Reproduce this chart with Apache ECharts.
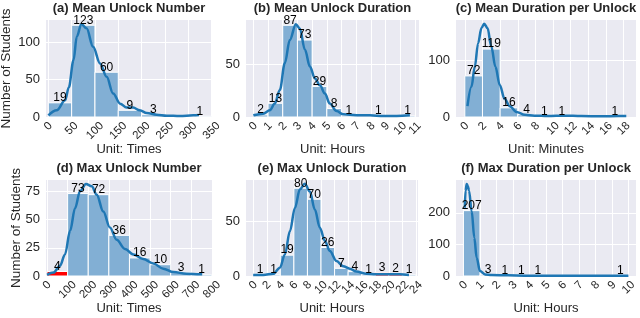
<!DOCTYPE html>
<html><head><meta charset="utf-8">
<script src="https://cdn.jsdelivr.net/npm/echarts@6/dist/echarts.min.js"></script>
<style>html,body{margin:0;padding:0;background:#fff}#c{width:640px;height:318px}</style>
</head><body><div id="c"></div>
<script>
// ---------- DATA ----------
const titles = ['(a) Mean Unlock Number', '(b) Mean Unlock Duration', '(c) Mean Duration per Unlock',
                '(d) Max Unlock Number', '(e) Max Unlock Duration', '(f) Max Duration per Unlock'];
const xNames = ['Unit: Times', 'Unit: Hours', 'Unit: Minutes', 'Unit: Times', 'Unit: Hours', 'Unit: Hours'];
const yName = 'Number of Students';

const binWidths = [50, 1, 2, 100, 2, 1];

const countsA = [19, 123, 60, 9, 3, 0, 1];
const countsB = [2, 13, 87, 73, 29, 8, 1, 0, 1, 0, 1];
const countsC = [72, 119, 16, 4, 1, 1, 0, 0, 1];
const countsD = [4, 73, 72, 36, 16, 10, 3, 1];
const countsE = [1, 1, 19, 80, 70, 26, 7, 4, 1, 3, 2, 1];
const countsF = [207, 3, 1, 1, 1, 0, 0, 0, 0, 1];

const redBinsD = [0];
const redBinsE = [9, 10];

const kdeXA = [0, 18, 36, 44, 54, 61, 71, 82, 96, 111, 125, 139, 154, 168, 182, 196, 211, 232, 254, 282, 311, 323];
const kdeYA = [2.2, 9, 22.4, 40, 76, 107.6, 124.7, 118.8, 94, 71.7, 53.8, 31.4, 17.9, 12.6, 12.6, 9, 5.4, 3.1, 1.8, 1.3, 2.2, 2.7];
const kdeXB = [0, 0.67, 1.12, 1.46, 1.8, 2.14, 2.48, 2.89, 3.16, 3.51, 3.85, 4.19, 4.53, 4.87, 5.2, 5.66, 6.12, 7.02, 7.93, 8.84, 9.75, 10.65];
const kdeYB = [1.6, 3.2, 6.4, 12.7, 25.5, 51, 73, 88, 84, 63.7, 47.8, 36.6, 30, 22.3, 12.7, 5.7, 2.5, 1.6, 1.6, 1, 1, 1.6];
const kdeXC = [0.3, 0.75, 1.13, 1.5, 1.89, 2.19, 2.57, 3.0, 3.47, 3.96, 4.5, 5.1, 5.85, 6.8, 7.9, 9.4, 11.3, 13.2, 15.5, 17.4, 18.3];
const kdeYC = [19, 53, 88, 129, 156, 163.5, 156, 123.5, 88, 56, 32, 19, 8.8, 4, 2.4, 1.8, 2.4, 1.8, 1.2, 1.8, 1.8];
const kdeXD = [0, 31, 63, 87, 112, 136, 160, 189, 217, 241, 273, 305, 338, 378, 419, 467, 516, 564, 613, 677, 742, 753];
const kdeYD = [1, 3, 9, 19, 40, 60, 75, 81.5, 79.4, 72, 57, 43, 32, 24, 19, 15, 11, 6.5, 3.5, 2, 1.5, 1.5];
const kdeXE = [0, 1.5, 2.96, 3.94, 4.68, 5.42, 6.15, 6.89, 7.62, 8.36, 9.09, 9.83, 10.57, 11.3, 12.28, 13.26, 14.24, 15.22, 16.69, 18.16, 20.13, 21.6, 22.97];
const kdeYE = [1, 1, 2, 7.6, 19.7, 41, 62, 79, 84, 77, 60.6, 44, 32, 22.7, 13.6, 9, 6.7, 4, 2, 1.5, 1.5, 1.5, 1];
const kdeXF = [0.08, 0.13, 0.2, 0.27, 0.34, 0.5, 0.66, 0.8, 1.0, 1.31, 1.71, 2.7, 3.7, 4.74, 5.75, 7.77, 9.99];
const kdeYF = [216, 270, 291, 284, 270, 205, 121, 58, 16, 5, 3, 2, 1, 1, 0.5, 0.5, 1];

const xTicksA = [0, 50, 100, 150, 200, 250, 300, 350];
const xTicksB = [0, 1, 2, 3, 4, 5, 6, 7, 8, 9, 10, 11];
const xTicksC = [0, 2, 4, 6, 8, 10, 12, 14, 16, 18];
const xTicksD = [0, 100, 200, 300, 400, 500, 600, 700, 800];
const xTicksE = [0, 2, 4, 6, 8, 10, 12, 14, 16, 18, 20, 22, 24];
const xTicksF = [0, 1, 2, 3, 4, 5, 6, 7, 8, 9, 10];

const yTicksA = [0, 50, 100];
const yTicksB = [0, 50];
const yTicksC = [0, 100];
const yTicksD = [0, 25, 50, 75];
const yTicksE = [0, 50];
const yTicksF = [0, 100, 200];

// ---------- LAYOUT / STYLE ----------
const layout = [
  {left: 46,  right: 212, top: 20,  bottom: 117, xmin: -5,    xmax: 351,   ymax: 130},
  {left: 246, right: 419, top: 20,  bottom: 117, xmin: -0.5,  xmax: 11.27, ymax: 92},
  {left: 456, right: 636, top: 20,  bottom: 117, xmin: -1.0,  xmax: 19.4,  ymax: 170},
  {left: 46,  right: 212, top: 180, bottom: 276, xmin: -5,    xmax: 800.5, ymax: 85},
  {left: 246, right: 418, top: 180, bottom: 276, xmin: -1.06, xmax: 24.3,  ymax: 87.5},
  {left: 456, right: 636, top: 180, bottom: 276, xmin: -0.45, xmax: 10.45, ymax: 304}
];
const FONT = '"Liberation Sans", Arial, Helvetica, sans-serif';
const TXT = '#262626';
const BAR = '#82AFD4';
const RED = '#FF0000';
const LINE = '#1F77B4';
const XTICK_FS = 11.5;

const counts = [countsA, countsB, countsC, countsD, countsE, countsF];
const reds = [[], [], [], redBinsD, redBinsE, []];
const kdeX = [kdeXA, kdeXB, kdeXC, kdeXD, kdeXE, kdeXF];
const kdeY = [kdeYA, kdeYB, kdeYC, kdeYD, kdeYE, kdeYF];
const xTicks = [xTicksA, xTicksB, xTicksC, xTicksD, xTicksE, xTicksF];
const yTicks = [yTicksA, yTicksB, yTicksC, yTicksD, yTicksE, yTicksF];

const cnv = document.createElement('canvas').getContext('2d');
cnv.font = XTICK_FS + 'px ' + FONT;
function textW(s) { return cnv.measureText(s).width; }

const grid = [], xAxis = [], yAxis = [], series = [], title = [];
layout.forEach((L, i) => {
  grid.push({left: L.left, top: L.top, width: L.right - L.left, height: L.bottom - L.top,
    show: true, backgroundColor: '#EAEAF2', borderWidth: 0, containLabel: false, outerBoundsMode: 'none'});
  title.push({text: titles[i], left: (L.left + L.right) / 2, top: L.top - 18.5, textAlign: 'center', padding: 0,
    textStyle: {fontSize: 13, fontWeight: 'bold', fontFamily: FONT, color: TXT}});
  const ticks = xTicks[i];
  // guard values at the axis ends (no label, no line) so that no real end label gets auto-hidden
  const tickVals = [L.xmin].concat(ticks, [L.xmax]);
  const rich = {};
  ticks.forEach((t, k) => {
    const w = textW(String(t));
    rich['t' + k] = {fontSize: XTICK_FS, fontFamily: FONT, color: TXT, padding: [w / 2, w / 2, 0, 0]};
  });
  xAxis.push({type: 'value', gridIndex: i, min: L.xmin, max: L.xmax,
    axisLine: {show: false}, axisTick: {show: false, customValues: tickVals},
    splitLine: {show: true, showMinLine: false, showMaxLine: false, lineStyle: {color: '#FFFFFF', width: 1}},
    axisLabel: {customValues: tickVals, rotate: 45, align: 'center', verticalAlign: 'middle', margin: 7,
      hideOverlap: false, showMinLabel: false, showMaxLabel: false,
      fontSize: XTICK_FS, fontFamily: FONT, color: TXT, rich: rich,
      formatter: v => { const k = ticks.indexOf(v); return k < 0 ? '' : '{t' + k + '|' + v + '}'; }},
    name: xNames[i], nameLocation: 'middle', nameGap: 26, nameMoveOverlap: false,
    nameTextStyle: {fontSize: 13, fontFamily: FONT, color: TXT}});
  const yAx = {type: 'value', gridIndex: i, min: 0, max: L.ymax,
    axisLine: {show: false}, axisTick: {show: false, customValues: yTicks[i]},
    splitLine: {show: true, lineStyle: {color: '#FFFFFF', width: 1}},
    axisLabel: {customValues: yTicks[i], margin: 6, fontSize: 13, fontFamily: FONT, color: TXT,
      showMinLabel: true, showMaxLabel: true}};
  if (i === 0 || i === 3) {
    Object.assign(yAx, {name: yName, nameLocation: 'middle', nameGap: i === 0 ? 33 : 23, nameMoveOverlap: false,
      nameTextStyle: {fontSize: 13.5, fontFamily: FONT, color: TXT}});
  }
  yAxis.push(yAx);

  const bw = binWidths[i];
  const barData = counts[i].map((c, k) => [k * bw, (k + 1) * bw, c, reds[i].indexOf(k) >= 0 ? 1 : 0]);
  series.push({type: 'custom', xAxisIndex: i, yAxisIndex: i, z: 2, data: barData, silent: true,
    renderItem: (params, api) => {
      const v = api.value(2);
      if (!v) return null;
      const p0 = api.coord([api.value(0), v]);
      const p1 = api.coord([api.value(1), 0]);
      return {type: 'rect', shape: {x: p0[0], y: p0[1], width: p1[0] - p0[0], height: p1[1] - p0[1]},
        style: {fill: api.value(3) ? RED : BAR, stroke: '#FFFFFF', lineWidth: 1}};
    }});
  series.push({type: 'line', xAxisIndex: i, yAxisIndex: i, z: 3, showSymbol: false, silent: true,
    smooth: 0.35, smoothMonotone: 'x',
    data: kdeX[i].map((x, k) => [x, kdeY[i][k]]),
    lineStyle: {color: LINE, width: 2.5}});
  series.push({type: 'custom', xAxisIndex: i, yAxisIndex: i, z: 4, data: barData, silent: true,
    renderItem: (params, api) => {
      const v = api.value(2);
      if (!v) return null;
      const p = api.coord([(api.value(0) + api.value(1)) / 2, v]);
      return {type: 'text', x: p[0], y: p[1] + 1,
        style: {text: String(v), align: 'center', verticalAlign: 'bottom',
          font: '12px ' + FONT, fill: '#000000'}};
    }});
});

const chart = echarts.init(document.getElementById('c'), null, {renderer: 'canvas'});
chart.setOption({animation: false, backgroundColor: '#FFFFFF', title, grid, xAxis, yAxis, series});
</script>
</body></html>
